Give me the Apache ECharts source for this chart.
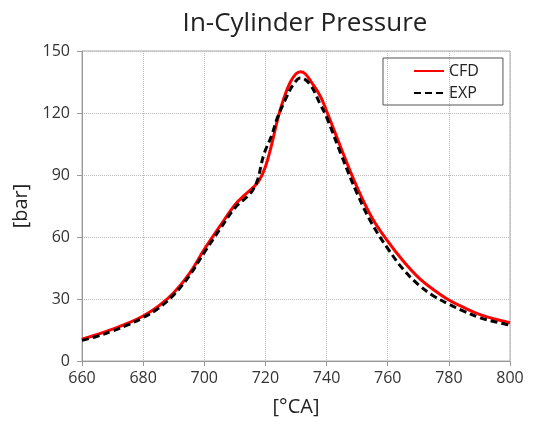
<!DOCTYPE html>
<html>
<head>
<meta charset="utf-8">
<script src="https://cdn.jsdelivr.net/npm/echarts@6/dist/echarts.min.js"></script>
<style>
  html, body { margin: 0; padding: 0; background: #fff; }
  #chart { width: 539px; height: 424px; }
</style>
</head>
<body>
<div id="chart"></div>
<script>
// crank angle [°CA] and pressure [bar]
const cfdAngle = [660, 665, 670, 675, 680, 685, 690, 695, 700, 705, 710, 713, 716, 718, 720, 722, 724, 726, 728, 730, 731.5, 733, 735, 738, 740, 745, 750, 755, 760, 765, 770, 775, 780, 785, 790, 795, 800];
const cfdPressure = [10.5, 12.8, 15.4, 18.3, 21.8, 26.5, 33, 42, 54, 65, 75.5, 80, 84, 87.5, 94, 104.5, 117, 127, 134.5, 139, 140, 139, 135, 128, 121, 102, 84, 69, 58, 48.5, 40.5, 34.5, 29.5, 25.8, 22.6, 20.3, 18.5];

const expAngle = [660, 665, 670, 675, 680, 685, 690, 695, 700, 705, 710, 714, 716, 717.5, 719.5, 722, 724, 727, 729, 731.5, 734.5, 738, 740, 745, 750, 755, 760, 765, 770, 775, 780, 785, 790, 795, 800];
const expPressure = [10, 12, 14.5, 17.5, 21, 25.5, 32, 41, 52.5, 63.5, 74, 79.5, 83, 88, 100, 109, 118, 128, 133.5, 137, 134, 124, 118, 99, 81, 66, 54.5, 44.5, 37, 31.5, 27.5, 24, 21, 19, 17.3];

const xTicks = [660, 800, 20];
const yTicks = [0, 150, 30];

const pair = (xs, ys) => xs.map((x, i) => [x, ys[i]]);

const font = '"Open Sans", "Liberation Sans", sans-serif';

let option = {
    backgroundColor: '#fff',
    animation: false,
    textStyle: { fontFamily: font },
    title: {
        text: 'In-Cylinder Pressure',
        left: 300,
        textAlign: 'center',
        top: 6,
        textStyle: { fontSize: 26, fontWeight: 'normal', color: '#222', fontFamily: font }
    },
    legend: {
        left: 383,
        top: 58,
        orient: 'vertical',
        padding: [5, 24, 4, 30],
        itemWidth: 30,
        itemHeight: 14,
        itemGap: 6,
        borderColor: '#555',
        borderWidth: 1,
        itemStyle: { opacity: 0 },
        textStyle: { fontSize: 16, color: '#222', fontFamily: font },
        data: ['CFD', 'EXP']
    },
    grid: {
        left: 82, right: 29, top: 51, bottom: 63,
        show: true,
        borderColor: '#aaa',
        borderWidth: 1
    },
    xAxis: {
        type: 'value',
        min: xTicks[0], max: xTicks[1], interval: xTicks[2],
        name: '[°CA]',
        nameLocation: 'middle',
        nameGap: 36,
        nameTextStyle: { fontSize: 20, color: '#222' },
        axisLine: { lineStyle: { color: '#999' } },
        axisTick: { show: true, length: 5, lineStyle: { color: '#999' } },
        axisLabel: { fontSize: 16, color: '#333', margin: 9 },
        splitLine: { lineStyle: { type: 'dotted', color: '#bbb' } }
    },
    yAxis: {
        type: 'value',
        min: yTicks[0], max: yTicks[1], interval: yTicks[2],
        name: '[bar]',
        nameLocation: 'middle',
        nameGap: 50,
        nameTextStyle: { fontSize: 20, color: '#222' },
        axisLine: { show: true, lineStyle: { color: '#999' } },
        axisTick: { show: true, length: 5, lineStyle: { color: '#999' } },
        axisLabel: { fontSize: 16, color: '#333', margin: 12 },
        splitLine: { lineStyle: { type: 'dotted', color: '#bbb' } }
    },
    series: [
        {
            name: 'CFD',
            type: 'line',
            data: pair(cfdAngle, cfdPressure),
            smooth: 0.4,
            symbol: 'none',
            z: 3,
            lineStyle: { color: '#ff0000', width: 3 },
            itemStyle: { color: '#ff0000' }
        },
        {
            name: 'EXP',
            type: 'line',
            data: pair(expAngle, expPressure),
            smooth: 0.4,
            symbol: 'none',
            z: 4,
            lineStyle: { color: '#000', width: 3, type: [7, 4] },
            itemStyle: { color: '#000' }
        }
    ]
};

echarts.init(document.getElementById('chart')).setOption(option);
</script>
</body>
</html>
